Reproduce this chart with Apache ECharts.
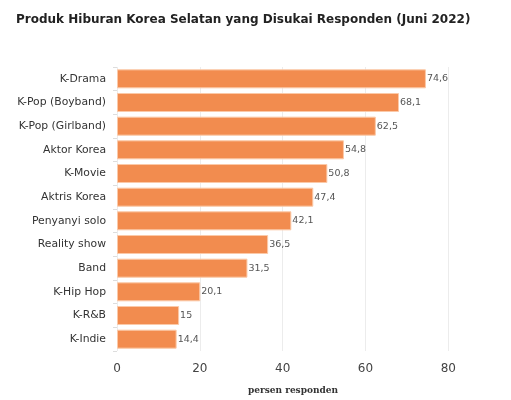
<!DOCTYPE html>
<html>
<head>
<meta charset="utf-8">
<script src="https://cdn.jsdelivr.net/npm/echarts@6/dist/echarts.min.js"></script>
<style>
  html, body { margin: 0; padding: 0; background: #fff; }
  #chart { width: 511px; height: 400px; }
</style>
</head>
<body>
<div id="chart"></div>
<script>
const categories = ['K-Drama', 'K-Pop (Boyband)', 'K-Pop (Girlband)', 'Aktor Korea', 'K-Movie',
  'Aktris Korea', 'Penyanyi solo', 'Reality show', 'Band', 'K-Hip Hop', 'K-R&B', 'K-Indie'];
const values = [74.6, 68.1, 62.5, 54.8, 50.8, 47.4, 42.1, 36.5, 31.5, 20.1, 15, 14.4];
const labels = ['74,6', '68,1', '62,5', '54,8', '50,8', '47,4', '42,1', '36,5', '31,5', '20,1', '15', '14,4'];

const chart = echarts.init(document.getElementById('chart'));
const option = {
  animation: false,
  title: {
    text: 'Produk Hiburan Korea Selatan yang Disukai Responden (Juni 2022)',
    left: 11,
    top: 9,
    textStyle: { fontFamily: 'DejaVu Sans', fontWeight: 'bold', fontSize: 12, color: '#222' },
  },
  grid: { left: 117, right: 42, top: 67, bottom: 47 },
  xAxis: {
    type: 'value',
    min: 0,
    max: 85,
    interval: 20,
    axisLine: { show: false },
    axisTick: { show: false },
    axisLabel: { color: '#444', fontSize: 12, fontFamily: 'DejaVu Sans', margin: 12, showMaxLabel: false },
    splitLine: { showMaxLine: false, lineStyle: { color: '#ececec', width: 1 } },
    name: 'persen responden',
    nameLocation: 'middle',
    nameGap: 35,
    nameTextStyle: { fontFamily: 'DejaVu Serif', fontWeight: 'bold', fontSize: 9, color: '#333' },
  },
  yAxis: {
    type: 'category',
    inverse: true,
    data: categories,
    axisLine: { show: false },
    axisTick: { show: true, length: 4, lineStyle: { color: '#ddd' } },
    axisLabel: { color: '#333', fontSize: 10.8, fontFamily: 'DejaVu Sans', margin: 11 },
  },
  series: [{
    type: 'bar',
    data: values,
    barWidth: 19,
    itemStyle: { color: '#f28c4f', borderColor: '#fbc9a8', borderWidth: 1 },
    label: {
      show: true,
      position: 'right',
      distance: 1,
      color: '#555',
      fontSize: 9.5,
      fontFamily: 'DejaVu Sans',
      formatter: (p) => labels[p.dataIndex],
    },
  }],
};
chart.setOption(option);
</script>
</body>
</html>
